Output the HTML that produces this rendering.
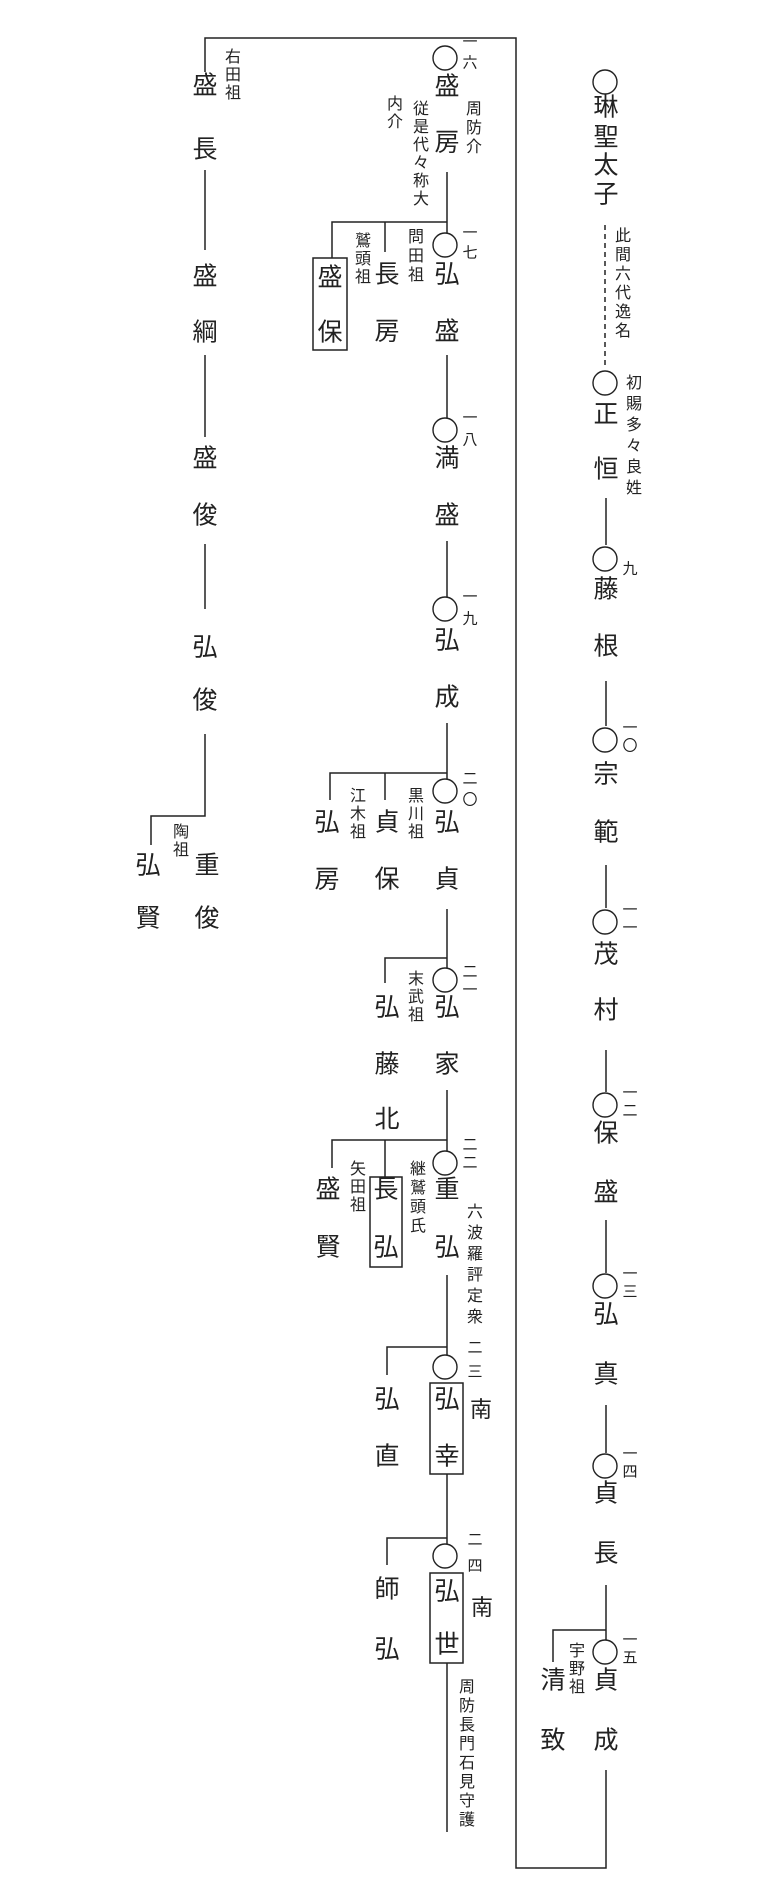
<!DOCTYPE html>
<html><head><meta charset="utf-8">
<style>
html,body{margin:0;padding:0;background:#fff;}
#w{position:relative;width:780px;height:1900px;overflow:hidden;background:#fff;color:#222;font-family:"Liberation Sans","Noto Sans CJK JP",sans-serif;}
.c{position:absolute;font-size:25px;line-height:1;transform:translate(-50%,-50%);white-space:nowrap;}
.s{position:absolute;font-size:16px;line-height:1;writing-mode:vertical-rl;letter-spacing:3px;transform:translateX(-50%);white-space:nowrap;}
.g{position:absolute;font-size:15px;line-height:1;transform:translate(-50%,-50%);}
svg{position:absolute;left:0;top:0;}
</style></head><body><div id="w">
<svg width="780" height="1900" fill="none" stroke="#222" stroke-width="1.5">
<!-- frame -->
<path d="M205,72 V38 H516 V1868 H606 V1770"/>
<!-- left column -->
<path d="M205,170 V250 M205,355 V437 M205,544 V609 M205,734 V816 H151 V845"/>
<!-- right column -->
<path d="M605,225 V365" stroke-dasharray="5,4"/>
<path d="M606,498 V545 M606,681 V726 M606,865 V908 M606,1050 V1092 M606,1220 V1273 M606,1405 V1453 M606,1585 V1640 M606,1630 H553 V1662"/>
<!-- middle column -->
<path d="M447,172 V233 M447,222 H332 V258 M385,222 V252"/>
<path d="M447,355 V418 M447,541 V597 M447,723 V779 M447,773 H330 V800 M385,773 V800"/>
<path d="M447,909 V968 M447,958 H385 V983"/>
<path d="M447,1090 V1151 M447,1140 H332 V1168 M385,1140 V1177"/>
<path d="M447,1275 V1355 M447,1347 H387 V1375"/>
<path d="M447,1474 V1544 M447,1538 H387 V1565"/>
<path d="M447,1663 V1832"/>
<!-- boxes -->
<rect x="313" y="258" width="34" height="92"/>
<rect x="370" y="1177" width="32" height="90"/>
<rect x="430" y="1383" width="33" height="91"/>
<rect x="430" y="1573" width="33" height="90"/>
<!-- circles -->
<g stroke-width="1.4">
<circle cx="605" cy="82" r="12"/><circle cx="605" cy="383" r="12"/><circle cx="605" cy="559" r="12"/>
<circle cx="605" cy="740" r="12"/><circle cx="605" cy="922" r="12"/><circle cx="605" cy="1105" r="12"/>
<circle cx="605" cy="1286" r="12"/><circle cx="605" cy="1466" r="12"/><circle cx="605" cy="1652" r="12"/>
<circle cx="445" cy="58" r="12"/><circle cx="445" cy="245" r="12"/><circle cx="445" cy="430" r="12"/>
<circle cx="445" cy="609" r="12"/><circle cx="445" cy="791" r="12"/><circle cx="445" cy="980" r="12"/>
<circle cx="445" cy="1163" r="12"/><circle cx="445" cy="1367" r="12"/><circle cx="445" cy="1556" r="12"/>
</g>
</svg>

<!-- right column main -->
<div class="c" style="left:606px;top:108px">琳</div>
<div class="c" style="left:606px;top:138px">聖</div>
<div class="c" style="left:606px;top:166px">太</div>
<div class="c" style="left:606px;top:195px">子</div>
<div class="s" style="left:620px;top:227px">此間六代逸名</div>
<div class="c" style="left:606px;top:415px">正</div>
<div class="c" style="left:606px;top:470px">恒</div>
<div class="s" style="left:631px;top:374px;letter-spacing:5px">初賜多々良姓</div>
<div class="c" style="left:606px;top:590px">藤</div><div class="c" style="left:606px;top:647px">根</div>
<div class="c" style="left:606px;top:775px">宗</div><div class="c" style="left:606px;top:833px">範</div>
<div class="c" style="left:606px;top:955px">茂</div><div class="c" style="left:606px;top:1011px">村</div>
<div class="c" style="left:606px;top:1134px">保</div><div class="c" style="left:606px;top:1193px">盛</div>
<div class="c" style="left:606px;top:1315px">弘</div><div class="c" style="left:606px;top:1375px">真</div>
<div class="c" style="left:606px;top:1494px">貞</div><div class="c" style="left:606px;top:1554px">長</div>
<div class="c" style="left:606px;top:1681px">貞</div><div class="c" style="left:606px;top:1741px">成</div>
<div class="c" style="left:553px;top:1681px">清</div><div class="c" style="left:553px;top:1741px">致</div>
<div class="s" style="left:574px;top:1642px;letter-spacing:2px">宇野祖</div>
<!-- right gen numbers -->
<div class="g" style="left:630px;top:569px">九</div>
<div class="g" style="left:630px;top:728px">一</div><div class="g" style="left:630px;top:746px">〇</div>
<div class="g" style="left:630px;top:910px">一</div><div class="g" style="left:630px;top:928px">一</div>
<div class="g" style="left:630px;top:1093px">一</div><div class="g" style="left:630px;top:1111px">二</div>
<div class="g" style="left:630px;top:1274px">一</div><div class="g" style="left:630px;top:1292px">三</div>
<div class="g" style="left:630px;top:1454px">一</div><div class="g" style="left:630px;top:1472px">四</div>
<div class="g" style="left:630px;top:1640px">一</div><div class="g" style="left:630px;top:1658px">五</div>

<!-- left column -->
<div class="c" style="left:205px;top:86px">盛</div><div class="c" style="left:205px;top:150px">長</div>
<div class="s" style="left:230px;top:48px;letter-spacing:2px">右田祖</div>
<div class="c" style="left:205px;top:277px">盛</div><div class="c" style="left:205px;top:333px">綱</div>
<div class="c" style="left:205px;top:459px">盛</div><div class="c" style="left:205px;top:516px">俊</div>
<div class="c" style="left:205px;top:648px">弘</div><div class="c" style="left:205px;top:701px">俊</div>
<div class="c" style="left:207px;top:866px">重</div><div class="c" style="left:207px;top:919px">俊</div>
<div class="c" style="left:148px;top:866px">弘</div><div class="c" style="left:148px;top:919px">賢</div>
<div class="s" style="left:178px;top:823px;letter-spacing:2px">陶祖</div>

<!-- middle column main -->
<div class="c" style="left:447px;top:87px">盛</div><div class="c" style="left:447px;top:143px">房</div>
<div class="g" style="left:470px;top:42px">一</div><div class="g" style="left:470px;top:63px">六</div>
<div class="s" style="left:471px;top:100px">周防介</div>
<div class="s" style="left:418px;top:100px;letter-spacing:2px">従是代々称大</div>
<div class="s" style="left:392px;top:95px;letter-spacing:2px">内介</div>

<div class="c" style="left:447px;top:275px">弘</div><div class="c" style="left:447px;top:332px">盛</div>
<div class="g" style="left:470px;top:233px">一</div><div class="g" style="left:470px;top:253px">七</div>
<div class="c" style="left:330px;top:278px">盛</div><div class="c" style="left:330px;top:333px">保</div>
<div class="s" style="left:360px;top:232px;letter-spacing:2px">鷲頭祖</div>
<div class="c" style="left:387px;top:275px">長</div><div class="c" style="left:387px;top:332px">房</div>
<div class="s" style="left:413px;top:228px;letter-spacing:3px">問田祖</div>

<div class="c" style="left:447px;top:459px">満</div><div class="c" style="left:447px;top:516px">盛</div>
<div class="g" style="left:470px;top:418px">一</div><div class="g" style="left:470px;top:440px">八</div>

<div class="c" style="left:447px;top:641px">弘</div><div class="c" style="left:447px;top:698px">成</div>
<div class="g" style="left:470px;top:597px">一</div><div class="g" style="left:470px;top:619px">九</div>

<div class="c" style="left:447px;top:823px">弘</div><div class="c" style="left:447px;top:880px">貞</div>
<div class="g" style="left:470px;top:779px">二</div><div class="g" style="left:470px;top:800px">〇</div>
<div class="c" style="left:327px;top:823px">弘</div><div class="c" style="left:327px;top:880px">房</div>
<div class="s" style="left:355px;top:787px;letter-spacing:2px">江木祖</div>
<div class="c" style="left:387px;top:823px">貞</div><div class="c" style="left:387px;top:880px">保</div>
<div class="s" style="left:413px;top:787px;letter-spacing:2px">黒川祖</div>

<div class="c" style="left:447px;top:1008px">弘</div><div class="c" style="left:447px;top:1065px">家</div>
<div class="g" style="left:470px;top:972px">二</div><div class="g" style="left:470px;top:990px">一</div>
<div class="c" style="left:387px;top:1008px">弘</div><div class="c" style="left:387px;top:1065px">藤</div><div class="c" style="left:387px;top:1120px">北</div>
<div class="s" style="left:413px;top:970px;letter-spacing:2px">末武祖</div>

<div class="c" style="left:447px;top:1190px">重</div><div class="c" style="left:447px;top:1248px">弘</div>
<div class="g" style="left:470px;top:1145px">二</div><div class="g" style="left:470px;top:1163px">二</div>
<div class="s" style="left:472px;top:1203px;letter-spacing:5px">六波羅評定衆</div>
<div class="c" style="left:328px;top:1190px">盛</div><div class="c" style="left:328px;top:1248px">賢</div>
<div class="s" style="left:355px;top:1160px;letter-spacing:2px">矢田祖</div>
<div class="c" style="left:386px;top:1190px">長</div><div class="c" style="left:386px;top:1248px">弘</div>
<div class="s" style="left:415px;top:1160px;letter-spacing:3px">継鷲頭氏</div>

<div class="c" style="left:447px;top:1400px">弘</div><div class="c" style="left:447px;top:1457px">幸</div>
<div class="g" style="left:475px;top:1348px">二</div><div class="g" style="left:475px;top:1372px">三</div>
<div class="c" style="left:481px;top:1410px;font-size:22px">南</div>
<div class="c" style="left:387px;top:1400px">弘</div><div class="c" style="left:387px;top:1457px">直</div>

<div class="c" style="left:447px;top:1592px">弘</div><div class="c" style="left:447px;top:1645px">世</div>
<div class="g" style="left:475px;top:1540px">二</div><div class="g" style="left:475px;top:1566px">四</div>
<div class="c" style="left:482px;top:1608px;font-size:22px">南</div>
<div class="c" style="left:387px;top:1590px">師</div><div class="c" style="left:387px;top:1650px">弘</div>
<div class="s" style="left:464px;top:1678px;letter-spacing:3px">周防長門石見守護</div>
</div></body></html>
